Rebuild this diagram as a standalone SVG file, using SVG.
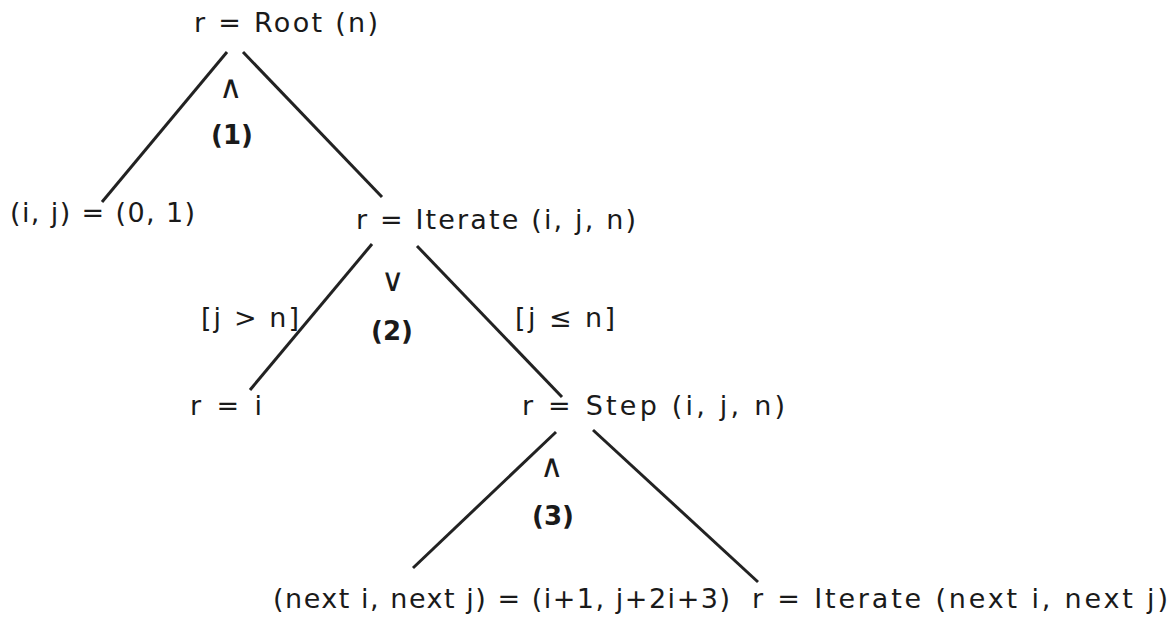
<svg xmlns="http://www.w3.org/2000/svg" width="1171" height="624" viewBox="0 0 1171 624">
<style>
text{font-family:"DejaVu Sans","Liberation Sans",sans-serif;font-size:27px;fill:#1a1a1a}
.c{text-anchor:middle}
.s{font-family:"DejaVu Sans ExtraLight","DejaVu Sans",sans-serif;font-size:32px;font-weight:200}
.b{font-weight:bold;font-size:26px}
.l{stroke:#222;stroke-width:3;fill:none;stroke-linecap:butt}
</style>
<rect width="1171" height="624" fill="#fff"/>
<g id="connectors">
<line class="l" x1="227" y1="52" x2="102" y2="202"/>
<line class="l" x1="243" y1="52" x2="382" y2="197"/>
<line class="l" x1="372" y1="244" x2="250" y2="390"/>
<line class="l" x1="417" y1="246" x2="562" y2="397"/>
<line class="l" x1="556" y1="432" x2="413" y2="568"/>
<line class="l" x1="593" y1="430" x2="758" y2="582"/>
</g>
<g id="root"><text x="194" y="32" textLength="184">r = Root (n)</text></g>
<g id="op1"><text class="c s" x="230" y="98">∧</text><text class="c b" x="232" y="144">(1)</text></g>
<g id="init"><text x="10" y="222" textLength="185">(i, j) = (0, 1)</text></g>
<g id="iterate"><text x="356" y="229" textLength="280">r = Iterate (i, j, n)</text></g>
<g id="op2"><text class="c s" x="392" y="291">∨</text><text class="c b" x="392" y="340">(2)</text></g>
<g id="guard1"><text x="201" y="327" textLength="98">[j &gt; n]</text></g>
<g id="guard2"><text x="515" y="327" textLength="100">[j ≤ n]</text></g>
<g id="result"><text x="190" y="415" textLength="72">r = i</text></g>
<g id="step"><text x="522" y="415" textLength="263">r = Step (i, j, n)</text></g>
<g id="op3"><text class="c s" x="551" y="477">∧</text><text class="c b" x="553" y="525">(3)</text></g>
<g id="next"><text x="273" y="608" textLength="457">(next i, next j) = (i+1, j+2i+3)</text></g>
<g id="recurse"><text x="752" y="608" textLength="416">r = Iterate (next i, next j)</text></g>
</svg>
